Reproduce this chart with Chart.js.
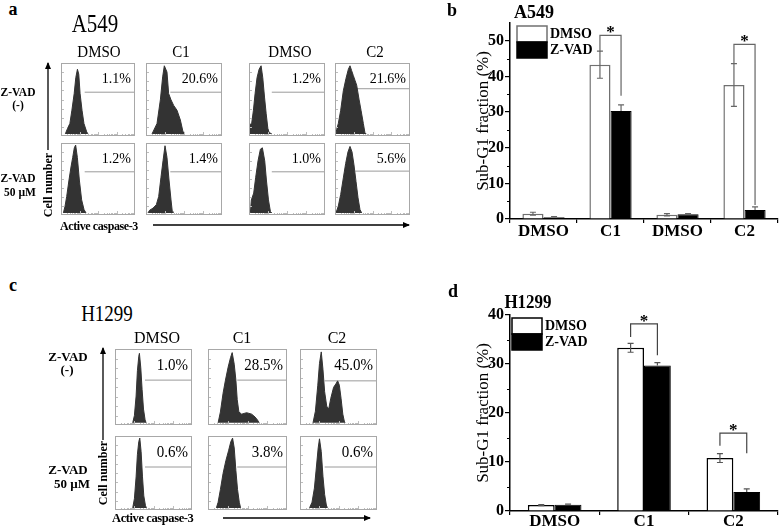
<!DOCTYPE html>
<html>
<head>
<meta charset="utf-8">
<script src="https://cdn.jsdelivr.net/npm/chart.js@4.4.1/dist/chart.umd.min.js"></script>
<style>
  body { margin: 0; background: #fff; }
  #fig { position: relative; width: 779px; height: 529px; overflow: hidden;
         font-family: "Liberation Serif", "Times New Roman", serif; color: #000; }
  .t { position: absolute; white-space: nowrap; line-height: 1; }
  .box { position: absolute; }
  .box canvas { position: absolute; left: 0; top: 0; }
  .pct { position: absolute; line-height: 1; white-space: nowrap; }
  svg { position: absolute; left: 0; top: 0; }
</style>
</head>
<body>
<div id="fig">
  <svg id="arrows" width="779" height="529"></svg>
  <canvas id="barA" width="339" height="250" style="position:absolute;left:440px;top:0px"></canvas>
  <canvas id="barH" width="339" height="239" style="position:absolute;left:440px;top:290px"></canvas>
</div>
<script>
// ---- data: panel b (A549 sub-G1) ----
const groupsA = ['DMSO', 'C1', 'DMSO', 'C2'];
const dmsoA = [1.5, 43.3, 1.2, 37.6];
const zvadA = [0.5, 30.3, 1.3, 2.5];
const dmsoErrA = [0.4, 3.8, 0.3, 6.0];
const zvadErrA = [0.2, 1.7, 0.2, 0.9];
const sigIdxA = [1, 3];
const sigTopA = [51.5, 49.0];
const sigLeftA = [47.0, 43.6];
const sigRightA = [34.6, 3.9];

// ---- data: panel d (H1299 sub-G1) ----
const groupsH = ['DMSO', 'C1', 'C2'];
const dmsoH = [1.2, 33.3, 10.8];
const zvadH = [1.3, 29.7, 3.9];
const dmsoErrH = [0.1, 0.9, 0.9];
const zvadErrH = [0.1, 0.6, 0.6];
const sigIdxH = [1, 2];
const sigTopH = [38.2, 15.9];
const sigLeftH = [35.5, 13.3];
const sigRightH = [31.8, 11.8];

const seriesNames = ['DMSO', 'Z-VAD'];

// ---- data: flow histograms, [channel %, count % of max] ----
const histA_dmso1 = [[5.8,0],[8.9,8],[12,15],[14.7,34],[17.8,58],[20,81],[22.2,93],[24,86],[25.8,58],[28.4,34],[31,15],[34.7,3],[36.4,0]];
const histA_c1 = [[7.9,0],[14.5,15],[18.9,49],[21.9,82],[24.1,98],[27.6,89],[29.8,58],[32.9,49],[36.4,41],[40.8,34],[45.2,20],[48.7,3],[49.6,0]];
const histA_dmso2 = [[0,0],[0.4,13],[3.5,15],[5.8,34],[8,58],[10.6,81],[13.3,93],[15.9,98],[18.1,81],[20.4,53],[22.6,29],[24.8,8],[26.5,2],[30,0]];
const histA_c2 = [[1.3,0],[2.2,6.5],[4.4,15],[7.6,34],[11.1,62],[14.7,80],[17.8,93],[20,98],[22.2,91],[24.4,84],[26.7,77],[28.9,70],[32,50],[34.7,34],[37.8,15],[40,1],[40.9,0]];
const histA_dmso1_z = [[3.2,0],[5.4,9.5],[7.7,24],[10.8,48],[13.5,67],[15.8,81],[18,95],[19.8,99],[22.1,81],[24.8,48],[27.9,19],[31.1,5],[33.8,0]];
const histA_c1_z = [[2.6,0],[4.8,4],[9.2,7],[13.6,12],[16.7,24],[19.7,52],[22.4,76],[25,98],[27.6,81],[30.3,48],[32.9,19],[34.6,2],[35.5,0]];
const histA_dmso2_z = [[1.8,0],[3.1,19],[6.2,29],[8.8,52],[11.9,76],[15,93],[17.6,95],[20.7,76],[22.9,48],[25.6,19],[28.2,2],[30,0]];
const histA_c2_z = [[1.3,0],[4.4,10],[7.6,27],[11.1,51],[14.2,72],[17.3,89],[20,97],[22.7,89],[25.3,70],[28,46],[30.7,22],[33.3,5],[35.6,0]];

const histH_dmso = [[23,0],[25.2,10],[27.4,37],[29.1,72],[30.9,92],[31.7,96],[33.5,76],[35.2,46],[37,19],[39.1,4],[40.4,0]];
const histH_c1 = [[12.8,0],[15.7,15],[19.1,41],[22.1,59],[25.5,77],[28.5,90],[30.6,97],[33.2,81],[35.3,59],[37,32],[39.1,15],[42.6,12],[48.9,14],[55.3,12],[59.6,8],[62.6,4],[64.7,0]];
const histH_c2 = [[16.9,0],[20,16],[23.1,52],[25.3,82],[27.6,98],[29.8,74],[32,43],[34.7,23],[37.3,19],[40,34],[43.6,49],[46.7,54],[48.9,58],[51.1,52],[53.3,34],[55.6,12],[57.8,1],[58.7,0]];
const histH_dmso_z = [[23,0],[25.2,13],[27.4,44],[29.1,76],[30.9,94],[32.2,99],[33.9,80],[35.7,44],[37.4,17],[39.6,3],[40.9,0]];
const histH_c1_z = [[10.6,0],[12.8,8],[15.7,26],[19.1,49],[22.6,67],[26,81],[28.9,94],[31.1,99],[33.2,85],[35.3,53],[37.4,26],[39.6,8],[41.3,0]];
const histH_c2_z = [[12.4,0],[15.6,8],[18.7,28],[21.3,58],[23.6,85],[25.3,98],[27.6,80],[29.8,45],[32,19],[34.2,4],[35.6,0]];

const pctA = [['1.1%', '20.6%', '1.2%', '21.6%'], ['1.2%', '1.4%', '1.0%', '5.6%']];
const pctH = [['1.0%', '28.5%', '45.0%'], ['0.6%', '3.8%', '0.6%']];
const gateStartA = [32, 32, 30, 27];
const gateLevelA = [[60, 60, 60, 65], [60, 60, 60, 61]];
const gateStartH = [39, 37, 32];
const gateLevelH = [[59, 59, 58], [58, 58, 58]];

Chart.defaults.font.family = '"Liberation Serif", "Times New Roman", serif';
Chart.defaults.color = '#000';

const fig = document.getElementById('fig');

function text(str, x, y, size, o = {}) {
  const el = document.createElement('div');
  el.className = 't';
  el.textContent = str;
  el.style.left = x + 'px';
  el.style.top = y + 'px';
  el.style.fontSize = size + 'px';
  if (o.bold) el.style.fontWeight = 'bold';
  if (o.ls) el.style.letterSpacing = o.ls + 'px';
  let tr = o.left ? 'translate(0,-50%)' : 'translate(-50%,-50%)';
  if (o.rot) tr += ' rotate(-90deg)';
  if (o.sy) tr += ' scale(1,' + o.sy + ')';
  el.style.transform = tr;
  fig.appendChild(el);
}

// frame + tiny log ticks of a cytometry box
const frame = {
  id: 'frame',
  afterDraw(chart) {
    const { ctx, width, height } = chart;
    const xs = chart.scales.x;
    ctx.save();
    ctx.strokeStyle = '#bdbdbd';
    ctx.lineWidth = 1;
    for (let i = 1; i < 8; i++) {
      const py = Math.round(height * i / 8) + 0.5;
      ctx.beginPath(); ctx.moveTo(1, py); ctx.lineTo(3, py); ctx.stroke();
    }
    for (let d = 0; d < 4; d++) {
      for (let k = 1; k < 10; k++) {
        const px = Math.round(xs.getPixelForValue(d * 25 + 25 * Math.log10(k))) + 0.5;
        ctx.beginPath(); ctx.moveTo(px, height - 1); ctx.lineTo(px, height - (k === 1 ? 4 : 2)); ctx.stroke();
      }
    }
    ctx.strokeStyle = '#a8a8a8';
    ctx.strokeRect(0.5, 0.5, width - 1, height - 1);
    ctx.restore();
  }
};

function histogram(x, y, w, h, pts, gateStart, gateLevel, pct, pctSize) {
  const wrap = document.createElement('div');
  wrap.className = 'box';
  wrap.style.left = x + 'px'; wrap.style.top = y + 'px';
  wrap.style.width = w + 'px'; wrap.style.height = h + 'px';
  const cv = document.createElement('canvas');
  cv.width = w; cv.height = h;
  wrap.appendChild(cv);
  const lab = document.createElement('div');
  lab.className = 'pct';
  lab.textContent = pct;
  lab.style.fontSize = pctSize + 'px';
  lab.style.right = '4px';
  lab.style.top = '9px';
  lab.style.transform = 'scale(1,1.1)';
  wrap.appendChild(lab);
  fig.appendChild(wrap);
  new Chart(cv, {
    type: 'line',
    data: {
      datasets: [
        { data: pts.map(p => ({ x: p[0], y: p[1] })), fill: 'origin', backgroundColor: '#333',
          borderColor: '#333', borderWidth: 1, pointRadius: 0, tension: 0 },
        { data: [{ x: gateStart, y: gateLevel }, { x: 100, y: gateLevel }], fill: false,
          borderColor: '#9a9a9a', borderWidth: 1, pointRadius: 0 }
      ]
    },
    options: {
      responsive: false, animation: false, events: [],
      devicePixelRatio: 1,
      layout: { padding: 0 },
      plugins: { legend: { display: false }, tooltip: { enabled: false } },
      scales: {
        x: { type: 'linear', min: 0, max: 100, display: false },
        y: { min: -3, max: 102, display: false }
      }
    },
    plugins: [frame]
  });
}

// panel a
const colsA = [61, 146, 249, 335], widA = [74, 76, 76, 75];
const rowsA = [63, 143], hgtA = [73, 72];
const histsA = [[histA_dmso1, histA_c1, histA_dmso2, histA_c2],
                [histA_dmso1_z, histA_c1_z, histA_dmso2_z, histA_c2_z]];
for (let r = 0; r < 2; r++)
  for (let c = 0; c < 4; c++)
    histogram(colsA[c], rowsA[r], widA[c], hgtA[r], histsA[r][c], gateStartA[c], gateLevelA[r][c], pctA[r][c], 14);

// panel c
const colsH = [115, 208, 300], widH = [77, 79, 77];
const rowsH = [349, 436], hgtH = [76, 74];
const histsH = [[histH_dmso, histH_c1, histH_c2], [histH_dmso_z, histH_c1_z, histH_c2_z]];
for (let r = 0; r < 2; r++)
  for (let c = 0; c < 3; c++)
    histogram(colsH[c], rowsH[r], widH[c], hgtH[r], histsH[r][c], gateStartH[c], gateLevelH[r][c], pctH[r][c], 15);

// texts of panels a and c
text('a', 13, 9, 18, { bold: true });
text('A549', 95, 25, 21, { sy: 1.15 });
[['DMSO', 99], ['C1', 181], ['DMSO', 290], ['C2', 375]].forEach(d => text(d[0], d[1], 52, 15, { sy: 1.1 }));
text('Z-VAD', 18, 92, 11.5, { bold: true, sy: 1.1 });
text('(-)', 18, 106, 11.5, { bold: true });
text('Z-VAD', 18, 178, 11.5, { bold: true, sy: 1.1 });
text('50 µM', 20, 192, 11.5, { bold: true, sy: 1.1 });
text('Cell number', 48, 185, 12, { bold: true, rot: true });
text('Active caspase-3', 60, 226, 12, { bold: true, left: true, ls: -0.4 });

text('c', 13, 285, 18, { bold: true });
text('H1299', 107, 313, 19, { sy: 1.2 });
[['DMSO', 157], ['C1', 242], ['C2', 337]].forEach(d => text(d[0], d[1], 337, 16, { sy: 1.1 }));
text('Z-VAD', 68, 356, 13, { bold: true });
text('(-)', 67, 369, 13, { bold: true });
text('Z-VAD', 68, 469, 13, { bold: true });
text('50 µM', 72, 483, 13, { bold: true });
text('Cell number', 103, 473, 12, { bold: true, rot: true });
text('Active caspase-3', 112, 518, 12.5, { bold: true, left: true, ls: -0.4 });

text('b', 452, 10, 18, { bold: true });
text('A549', 534, 12, 18, { bold: true });
text('d', 453, 291, 18, { bold: true });
text('H1299', 528, 302, 17, { bold: true, sy: 1.15 });

// arrows
const svg = document.getElementById('arrows');
function arrow(x1, y1, x2, y2) {
  const ns = 'http://www.w3.org/2000/svg';
  const ln = document.createElementNS(ns, 'line');
  ln.setAttribute('x1', x1); ln.setAttribute('y1', y1);
  ln.setAttribute('x2', x2); ln.setAttribute('y2', y2);
  ln.setAttribute('stroke', '#000'); ln.setAttribute('stroke-width', '1.3');
  svg.appendChild(ln);
  const a = Math.atan2(y2 - y1, x2 - x1), L = 6, s = 3;
  const p = [[x2 + Math.cos(a), y2 + Math.sin(a)],
             [x2 - L * Math.cos(a) + s * Math.sin(a), y2 - L * Math.sin(a) - s * Math.cos(a)],
             [x2 - L * Math.cos(a) - s * Math.sin(a), y2 - L * Math.sin(a) + s * Math.cos(a)]];
  const tri = document.createElementNS(ns, 'polygon');
  tri.setAttribute('points', p.map(q => q.join(',')).join(' '));
  tri.setAttribute('fill', '#000');
  svg.appendChild(tri);
}
arrow(48, 150, 48, 63);
arrow(153, 225, 409, 225);
arrow(103, 440, 103, 348);
arrow(223, 518, 370, 518);

// error bars, brackets, minor ticks and legend for the bar charts
const extras = {
  id: 'extras',
  afterDraw(chart, args, o) {
    const ctx = chart.ctx, ys = chart.scales.y, area = chart.chartArea;
    ctx.save();
    ctx.strokeStyle = '#000';
    ctx.lineWidth = 1;
    for (let v = 5; v < ys.max; v += 10) {
      const py = Math.round(ys.getPixelForValue(v)) + 0.5;
      ctx.beginPath(); ctx.moveTo(area.left - 3, py); ctx.lineTo(area.left, py); ctx.stroke();
    }
    ctx.strokeStyle = o.errColor;
    ctx.lineWidth = 1.2;
    o.errors.forEach((errs, di) => {
      const vals = chart.data.datasets[di].data;
      chart.getDatasetMeta(di).data.forEach((bar, j) => {
        const top = ys.getPixelForValue(vals[j] + errs[j]);
        const bot = ys.getPixelForValue(di === 1 ? vals[j] : vals[j] - errs[j]);
        ctx.beginPath();
        ctx.moveTo(bar.x, top); ctx.lineTo(bar.x, bot);
        ctx.moveTo(bar.x - 3, top); ctx.lineTo(bar.x + 3, top);
        if (di === 0) { ctx.moveTo(bar.x - 3, bot); ctx.lineTo(bar.x + 3, bot); }
        ctx.stroke();
      });
    });
    ctx.strokeStyle = o.sigColor;
    ctx.lineWidth = 1.2;
    ctx.fillStyle = '#000';
    ctx.font = 'bold 17px "Liberation Serif"';
    ctx.textAlign = 'center';
    ctx.textBaseline = 'alphabetic';
    o.sig.idx.forEach((j, k) => {
      const b0 = chart.getDatasetMeta(0).data[j], b1 = chart.getDatasetMeta(1).data[j];
      const yt = ys.getPixelForValue(o.sig.top[k]);
      ctx.beginPath();
      ctx.moveTo(b0.x, ys.getPixelForValue(o.sig.left[k]));
      ctx.lineTo(b0.x, yt); ctx.lineTo(b1.x, yt);
      ctx.lineTo(b1.x, ys.getPixelForValue(o.sig.right[k]));
      ctx.stroke();
      ctx.fillText('*', (b0.x + b1.x) / 2, yt + 2);
    });
    // legend
    const lx = area.left + o.legend.dx, ly = area.top + o.legend.dy;
    ctx.font = 'bold 14px "Liberation Serif"';
    ctx.textAlign = 'left';
    ctx.textBaseline = 'middle';
    chart.data.datasets.forEach((ds, i) => {
      const by = ly + i * 16;
      ctx.fillStyle = ds.backgroundColor;
      ctx.fillRect(lx, by, 30, 16);
      ctx.strokeStyle = ds.borderColor;
      ctx.lineWidth = 1.5;
      ctx.strokeRect(lx, by, 30, 16);
      ctx.fillStyle = '#000';
      ctx.fillText(ds.label, lx + 33, by + 8);
    });
    ctx.restore();
  }
};

function barChart(id, labels, d0, d1, e0, e1, yMax, catPct, edge, padTop, xH, xPad, sig, errColor, sigColor, legend) {
  new Chart(document.getElementById(id), {
    type: 'bar',
    data: {
      labels: labels,
      datasets: [
        { label: seriesNames[0], data: d0, backgroundColor: '#fff', borderColor: edge, borderWidth: 1.5 },
        { label: seriesNames[1], data: d1, backgroundColor: '#000', borderColor: '#000', borderWidth: 1 }
      ]
    },
    options: {
      responsive: false, animation: false, events: [], devicePixelRatio: 1,
      layout: { padding: { top: padTop, right: 1, left: 0, bottom: 0 } },
      datasets: { bar: { barPercentage: 1, categoryPercentage: catPct } },
      plugins: {
        legend: { display: false }, tooltip: { enabled: false },
        extras: { errors: [e0, e1], sig: sig, errColor: errColor, sigColor: sigColor, legend: legend }
      },
      scales: {
        x: {
          grid: { offset: true, drawOnChartArea: false, tickLength: 4, color: '#000', lineWidth: 1.2 },
          border: { color: '#000', width: 1.5 },
          ticks: { font: { size: 17, weight: 'bold' }, padding: xPad, color: '#000' },
          afterFit(s) { s.height = xH; }
        },
        y: {
          min: 0, max: yMax,
          ticks: { stepSize: 10, includeBounds: false, font: { size: 16, weight: 'bold' }, padding: 1, color: '#000' },
          grid: { drawOnChartArea: false, tickLength: 5, color: '#000', lineWidth: 1.2 },
          border: { color: '#000', width: 1.5 },
          title: { display: true, text: 'Sub-G1 fraction (%)', font: { size: 17 }, padding: { top: 33, bottom: 0 } },
          afterFit(s) { s.width = 70; }
        }
      }
    },
    plugins: [extras]
  });
}

barChart('barA', groupsA, dmsoA, zvadA, dmsoErrA, zvadErrA, 55, 0.63, '#707070', 23, 31, -2,
  { idx: sigIdxA, top: sigTopA, left: sigLeftA, right: sigRightA }, '#666', '#666', { dx: 7, dy: 3 });
barChart('barH', groupsH, dmsoH, zvadH, dmsoErrH, zvadErrH, 40, 0.6, '#000', 25, 18, -4,
  { idx: sigIdxH, top: sigTopH, left: sigLeftH, right: sigRightH }, '#555', '#444', { dx: 2, dy: 3 });
</script>
</body>
</html>
